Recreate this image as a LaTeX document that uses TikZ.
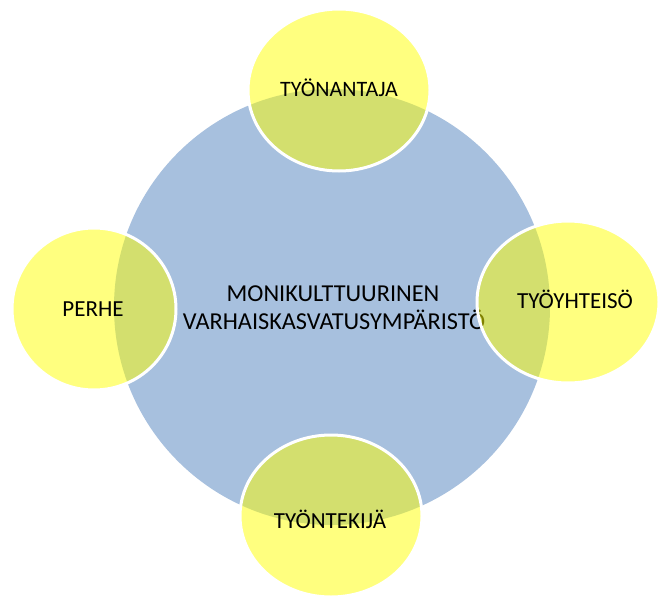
\documentclass[tikz,border=0pt]{standalone}
\usepackage{fontspec}
\setmainfont{Carlito}
\definecolor{bigblue}{HTML}{A7C0DE}
\definecolor{ylw}{HTML}{FFFF00}
\begin{document}
\begin{tikzpicture}[x=1pt,y=-1pt,
  bigcirc/.style={fill=bigblue,draw=none},
  smallcirc/.style={fill=ylw,fill opacity=0.5,draw=white,draw opacity=1,line width=3pt},
  lbl/.style={font=\fontsize{23}{28}\selectfont,text=black,inner sep=0pt,anchor=base},
  mainlbl/.style={lbl,font=\fontsize{24.3}{28}\selectfont}]
\useasboundingbox (0,0) rectangle (660,599);
\fill[white] (0,0) rectangle (660,599);
\begin{scope}
\clip (0,0) rectangle (660,599);
\node[bigcirc,circle,minimum size=436pt,inner sep=0pt] (main) at (332,307) {};
\node[mainlbl] (m1) at (333,301) {MONIKULTTUURINEN};
\node[mainlbl] (m2) at (334,329) {VARHAISKASVATUSYMPÄRISTÖ};
\path[smallcirc] (339,90) ellipse [x radius=91, y radius=81];
\path[smallcirc] (568,302) ellipse [x radius=91, y radius=81];
\path[smallcirc] (94,309) ellipse [x radius=82, y radius=81];
\path[smallcirc] (331,516) ellipse [x radius=91, y radius=81];
\end{scope}
\node[lbl,font=\fontsize{22}{28}\selectfont] (t) at (339,96) {TYÖNANTAJA};
\node[lbl] (r) at (575,308) {TYÖYHTEISÖ};
\node[lbl] (l) at (93,316) {PERHE};
\node[lbl] (b) at (330,528) {TYÖNTEKIJÄ};
\end{tikzpicture}
\end{document}
